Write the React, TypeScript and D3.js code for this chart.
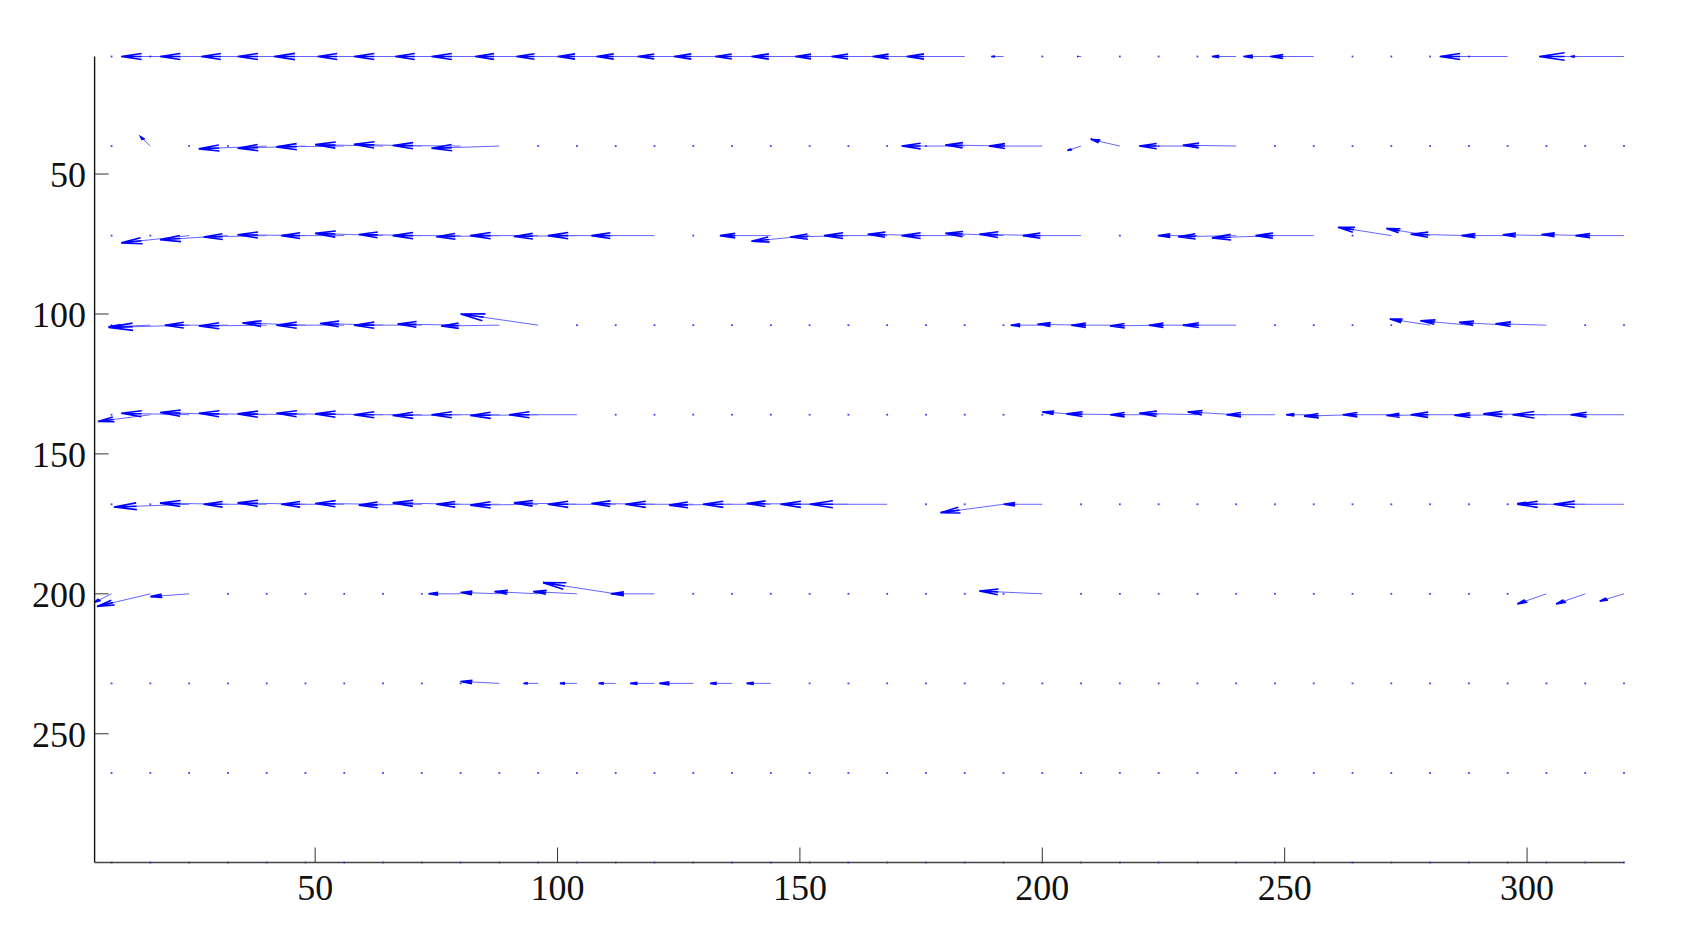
import React from "react";
import * as d3 from "d3";

// grid columns (x) and rows (y) of the vector field
const xCols = [8, 16, 24, 32, 40, 48, 56, 64, 72, 80, 88, 96, 104, 112, 120, 128, 136, 144, 152, 160, 168, 176, 184, 192, 200, 208, 216, 224, 232, 240, 248, 256, 264, 272, 280, 288, 296, 304, 312, 320];
const yRows = [8, 40, 72, 104, 136, 168, 200, 232, 264, 296];

// horizontal components per row
const uRow1 = [0, 0, -14, -14, -13.5, -14, -14.5, -13.5, -14, -13.5, -14, -13, -12.5, -12, -12, -11.5, -12, -11.5, -12, -11, -11.5, -11, -12, -2.5, 0, -0.8, 0, 0, 0, -5, -6.5, -9, 0, 0, 0, 0, -14, 0, -3, -17.5];
const uRow2 = [0, -2, 0, 0, -14, -14, -14, -14, -14, -14, -14, 0, 0, 0, 0, 0, 0, 0, 0, 0, 0, 0, -13, -12, -11, -2.8, -6, 0, -12, -11, 0, 0, 0, 0, 0, 0, 0, 0, 0, 0];
const uRow3 = [0, 0, -14, -14, -13, -14, -13, -14, -13, -14, -13, -14, -13, -14, -13, 0, 0, -10.5, -12, -12, -13, -12, -13, -12, -13, -12, 0, 0, -8, -12, -13, -12, 0, -11, -9, -12, -9.5, -9, -9, -10];
const uRow4 = [0, -8.6, -16.6, -13, -14, -13, -14, -13, -14, -13, -12, -16, 0, 0, 0, 0, 0, 0, 0, 0, 0, 0, 0, 0, -6.5, -9, -10, -10, -10, -11, 0, 0, 0, 0, -8.3, -10, -10, -10.5, 0, 0];
const uRow5 = [0, -10.8, -14, -14, -14, -14, -14, -14, -14, -14, -14, -14, -14, 0, 0, 0, 0, 0, 0, 0, 0, 0, 0, 0, 0, -8, -11, -10, -12, -10, -10, -5.7, -10, -10, -9, -12, -11, -13, -15, -11];
const uRow6 = [0, 0, -15.5, -14, -13, -14, -13, -14, -13, -14, -13, -14, -13, -14, -13, -14, -13, -14, -13, -14, -16, 0, 0, -13, -8, 0, 0, 0, 0, 0, 0, 0, 0, 0, 0, 0, 0, -6, -14, -14.5];
const uRow7 = [-3.5, -11, -8, 0, 0, 0, 0, 0, 0, -6.6, -8, -9, -9, -15, -9, 0, 0, 0, 0, 0, 0, 0, 0, 0, -13, 0, 0, 0, 0, 0, 0, 0, 0, 0, 0, 0, 0, -6, -6, -5];
const uRow8 = [0, 0, 0, 0, 0, 0, 0, 0, 0, 0, -8, -3, -3.5, -3.5, -5, -7, -4.5, -5, 0, 0, 0, 0, 0, 0, 0, 0, 0, 0, 0, 0, 0, 0, 0, 0, 0, 0, 0, 0, 0, 0];
const uRow9 = [0, 0, 0, 0, 0, 0, 0, 0, 0, 0, 0, 0, 0, 0, 0, 0, 0, 0, 0, 0, 0, 0, 0, 0, 0, 0, 0, 0, 0, 0, 0, 0, 0, 0, 0, 0, 0, 0, 0, 0];
const uRow10 = [0, 0, 0, 0, 0, 0, 0, 0, 0, 0, 0, 0, 0, 0, 0, 0, 0, 0, 0, 0, 0, 0, 0, 0, 0, 0, 0, 0, 0, 0, 0, 0, 0, 0, 0, 0, 0, 0, 0, 0];

// vertical components per row (axis runs downward)
const vRow1 = [0, 0, 0, 0, 0, 0, 0, 0, 0, 0, 0, 0, 0, 0, 0, 0, 0, 0, 0, 0, 0, 0, 0, 0, 0, 0, 0, 0, 0, 0, 0, 0, 0, 0, 0, 0, 0, 0, 0, 0];
const vRow2 = [0, -3.3, 0, 0, 1, 0.8, 0.3, -0.5, -0.6, -0.2, 0.8, 0, 0, 0, 0, 0, 0, 0, 0, 0, 0, 0, 0, -0.4, 0, 1.6, -2.4, 0, 0, -0.3, 0, 0, 0, 0, 0, 0, 0, 0, 0, 0];
const vRow3 = [0, 0, 2.6, 1.5, 0.5, -0.3, 0, -0.8, -0.4, 0, 0.4, 0, 0.3, 0, 0, 0, 0, 0, 2, 0.5, 0, -0.5, 0, -0.8, -0.5, 0, 0, 0, 0, 0.4, 0.8, 0, 0, -3, -2.5, -0.5, 0, -0.3, -0.4, 0];
const vRow4 = [0, 0.6, 0.8, 0, 0.3, -0.8, 0, -0.6, 0, -0.4, 0.3, -4, 0, 0, 0, 0, 0, 0, 0, 0, 0, 0, 0, 0, 0, -0.3, 0, 0.3, 0, 0, 0, 0, 0, 0, -2.2, -1.6, -1, -0.5, 0, 0];
const vRow5 = [0, 2.4, -0.5, -0.8, -0.5, -0.3, -0.5, -0.3, 0, 0.3, 0, 0.3, 0, 0, 0, 0, 0, 0, 0, 0, 0, 0, 0, 0, 0, -1, -0.3, 0, -0.5, -1, 0, 0, 0.5, 0, 0.3, 0, 0.2, -0.3, 0, 0];
const vRow6 = [0, 0, 1, -0.4, 0, -0.5, 0, -0.3, 0.3, -0.5, 0, 0.3, -0.5, 0, -0.3, 0, 0.3, 0, -0.3, 0, 0, 0, 0, 3, 0, 0, 0, 0, 0, 0, 0, 0, 0, 0, 0, 0, 0, -0.3, 0, 0];
const vRow7 = [3, 4.5, 1, 0, 0, 0, 0, 0, 0, 0, -0.5, -0.8, -0.8, -4, 0, 0, 0, 0, 0, 0, 0, 0, 0, 0, -1, 0, 0, 0, 0, 0, 0, 0, 0, 0, 0, 0, 0, 3.6, 3.6, 2.6];
const vRow8 = [0, 0, 0, 0, 0, 0, 0, 0, 0, 0, -0.7, 0, 0, 0, 0, 0, 0, 0, 0, 0, 0, 0, 0, 0, 0, 0, 0, 0, 0, 0, 0, 0, 0, 0, 0, 0, 0, 0, 0, 0];
const vRow9 = [0, 0, 0, 0, 0, 0, 0, 0, 0, 0, 0, 0, 0, 0, 0, 0, 0, 0, 0, 0, 0, 0, 0, 0, 0, 0, 0, 0, 0, 0, 0, 0, 0, 0, 0, 0, 0, 0, 0, 0];
const vRow10 = [0, 0, 0, 0, 0, 0, 0, 0, 0, 0, 0, 0, 0, 0, 0, 0, 0, 0, 0, 0, 0, 0, 0, 0, 0, 0, 0, 0, 0, 0, 0, 0, 0, 0, 0, 0, 0, 0, 0, 0];

const uRows = [uRow1, uRow2, uRow3, uRow4, uRow5, uRow6, uRow7, uRow8, uRow9, uRow10];
const vRows = [vRow1, vRow2, vRow3, vRow4, vRow5, vRow6, vRow7, vRow8, vRow9, vRow10];

const xTicks = [50, 100, 150, 200, 250, 300];
const yTicks = [50, 100, 150, 200, 250];

const W = 1686;
const H = 935;
const M = { left: 94.6, right: 1624, top: 56.5, bottom: 862.5 };
const ALPHA = 0.3;
const BETA = 0.26;

export default function App() {
  const x = d3.scaleLinear().domain([4.5, 320]).range([M.left, M.right]);
  const y = d3.scaleLinear().domain([8, 296]).range([M.top, M.bottom]);

  const shafts: string[] = [];
  const heads: string[] = [];
  const dots: { cx: number; cy: number }[] = [];
  yRows.forEach((yv, r) => {
    xCols.forEach((xv, c) => {
      const u = uRows[r][c];
      const v = vRows[r][c];
      if (u === 0 && v === 0) {
        dots.push({ cx: x(xv), cy: y(yv) });
        return;
      }
      const eps = 1e-9;
      const tx = xv + u;
      const ty = yv + v;
      const b1x = tx - ALPHA * (u + BETA * (v + eps));
      const b1y = ty - ALPHA * (v - BETA * (u + eps));
      const b2x = tx - ALPHA * (u - BETA * (v + eps));
      const b2y = ty - ALPHA * (v + BETA * (u + eps));
      const s = d3.path();
      s.moveTo(x(xv), y(yv));
      s.lineTo(x(tx), y(ty));
      shafts.push(s.toString());
      const h = d3.path();
      h.moveTo(x(b1x), y(b1y));
      h.lineTo(x(tx), y(ty));
      h.lineTo(x(b2x), y(b2y));
      h.moveTo(x(tx), y(ty));
      h.lineTo(x(tx - ALPHA * u), y(ty - ALPHA * v));
      heads.push(h.toString());
    });
  });

  const font = "'Liberation Serif', 'Times New Roman', serif";

  return (
    <svg
      width={W}
      height={H}
      style={{ position: "absolute", left: 0, top: 0, background: "#fff" }}
    >
      <rect x={0} y={0} width={W} height={H} fill="#fff" />
      {/* vectors */}
      <g fill="none" stroke="#0000ff" strokeWidth={1} opacity={0.6}>
        {shafts.map((d, i) => (
          <path key={i} d={d} />
        ))}
      </g>
      <g fill="none" stroke="#0000ff" strokeWidth={1.6} strokeLinejoin="miter">
        {heads.map((d, i) => (
          <path key={i} d={d} />
        ))}
      </g>
      <g fill="#0000ff" opacity={0.75}>
        {dots.map((d, i) => (
          <rect key={i} x={d.cx - 0.9} y={d.cy - 0.9} width={1.8} height={1.8} />
        ))}
      </g>
      {/* axes */}
      <line x1={M.left} x2={M.left} y1={M.top} y2={M.bottom} stroke="#111" strokeWidth={1.4} />
      <line x1={M.left} x2={M.right} y1={M.bottom} y2={M.bottom} stroke="#444" strokeWidth={1.4} />
      {xTicks.map((t) => (
        <g key={"x" + t}>
          <line x1={x(t)} x2={x(t)} y1={M.bottom} y2={M.bottom - 15} stroke="#333" strokeWidth={1} />
          <text x={x(t)} y={900} textAnchor="middle" fontFamily={font} fontSize={36} fill="#111">
            {t}
          </text>
        </g>
      ))}
      {yTicks.map((t) => (
        <g key={"y" + t}>
          <line x1={M.left} x2={M.left + 14} y1={y(t)} y2={y(t)} stroke="#333" strokeWidth={1} />
          <text x={86} y={y(t) + 13} textAnchor="end" fontFamily={font} fontSize={36} fill="#111">
            {t}
          </text>
        </g>
      ))}
    </svg>
  );
}
